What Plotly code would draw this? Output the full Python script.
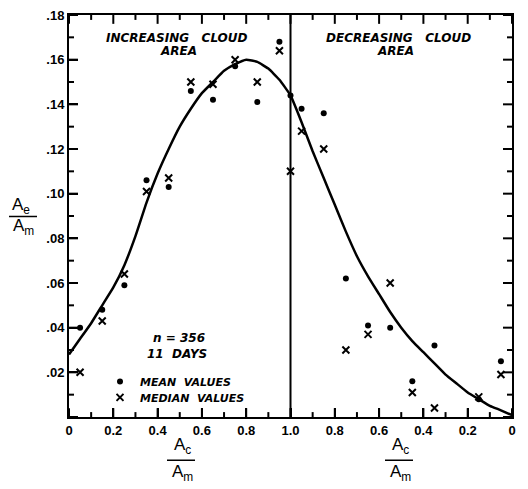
import plotly.graph_objects as go

# Phase coordinate: 0..1 = increasing cloud area (Ac/Am 0->1), 1..2 = decreasing (Ac/Am 1->0)
mean_s = [0.05, 0.15, 0.25, 0.35, 0.45, 0.55, 0.65, 0.75, 0.85, 0.95, 1.0,
          1.05, 1.15, 1.25, 1.35, 1.45, 1.55, 1.65, 1.85, 1.95]
mean_v = [0.040, 0.048, 0.059, 0.106, 0.103, 0.146, 0.142, 0.157, 0.141, 0.168, 0.144,
          0.138, 0.136, 0.062, 0.041, 0.040, 0.016, 0.032, 0.008, 0.025]

median_s = [0.05, 0.15, 0.25, 0.35, 0.45, 0.55, 0.65, 0.75, 0.85, 0.95, 1.0,
            1.05, 1.15, 1.25, 1.35, 1.45, 1.55, 1.65, 1.85, 1.95]
median_v = [0.020, 0.043, 0.064, 0.101, 0.107, 0.150, 0.149, 0.160, 0.150, 0.164, 0.110,
            0.128, 0.120, 0.030, 0.037, 0.060, 0.011, 0.004, 0.009, 0.019]

curve_s = [0.0, 0.05, 0.1, 0.15, 0.2, 0.25, 0.3, 0.35, 0.4, 0.45, 0.5, 0.55, 0.6, 0.65,
           0.7, 0.75, 0.8, 0.85, 0.9, 0.95, 1.0, 1.05, 1.1, 1.15, 1.2, 1.25, 1.3, 1.35,
           1.4, 1.45, 1.5, 1.55, 1.6, 1.65, 1.7, 1.75, 1.8, 1.85, 1.9, 1.95, 2.0]
curve_v = [0.028, 0.035, 0.042, 0.050, 0.058, 0.068, 0.081, 0.096, 0.109, 0.120, 0.130,
           0.138, 0.145, 0.150, 0.155, 0.158, 0.160, 0.159, 0.156, 0.151, 0.144, 0.132,
           0.119, 0.107, 0.095, 0.083, 0.072, 0.063, 0.055, 0.047, 0.040, 0.034, 0.029,
           0.024, 0.019, 0.015, 0.011, 0.008, 0.005, 0.003, 0.0008]

x_tickvals = [0, 0.2, 0.4, 0.6, 0.8, 1.0, 1.2, 1.4, 1.6, 1.8, 2.0]
x_ticktext = ["0", "0.2", "0.4", "0.6", "0.8", "1.0", "0.8", "0.6", "0.4", "0.2", "0"]
x_minorvals = [0.1, 0.3, 0.5, 0.7, 0.9, 1.1, 1.3, 1.5, 1.7, 1.9]
y_tickvals = [0, 0.02, 0.04, 0.06, 0.08, 0.10, 0.12, 0.14, 0.16, 0.18]
y_ticktext = ["", ".02", ".04", ".06", ".08", ".10", ".12", ".14", ".16", ".18"]
y_minorvals = [0.01, 0.03, 0.05, 0.07, 0.09, 0.11, 0.13, 0.15, 0.17]

X_RANGE = [0, 2]
Y_RANGE = [0, 0.18]
FONT = "Liberation Sans"
tickfont = dict(family=FONT, size=13, color="black", weight="bold")
itfont = dict(family="DejaVu Sans", size=12, color="black", weight="bold", style="italic")

PLOT_W, PLOT_H = 443.0, 409.0

fig = go.Figure()

# Inside tick marks on all four sides, as line segments in the axes' data space
tx, ty = [], []
for vals, ln in ((x_tickvals, 9), (x_minorvals, 5)):
    d = ln / PLOT_H * (Y_RANGE[1] - Y_RANGE[0])
    for v in vals:
        tx += [v, v, None, v, v, None]
        ty += [Y_RANGE[0], Y_RANGE[0] + d, None, Y_RANGE[1], Y_RANGE[1] - d, None]
for vals, ln in ((y_tickvals, 9), (y_minorvals, 5)):
    d = ln / PLOT_W * (X_RANGE[1] - X_RANGE[0])
    for v in vals:
        tx += [X_RANGE[0], X_RANGE[0] + d, None, X_RANGE[1], X_RANGE[1] - d, None]
        ty += [v, v, None, v, v, None]
fig.add_trace(go.Scatter(x=tx, y=ty, mode="lines", line=dict(color="black", width=2),
                         showlegend=False, hoverinfo="skip", cliponaxis=False))

fig.add_trace(go.Scatter(x=curve_s, y=curve_v, mode="lines", line=dict(color="black", width=2.5,
                         shape="spline", smoothing=0.4), showlegend=False, hoverinfo="skip"))
fig.add_trace(go.Scatter(x=mean_s, y=mean_v, mode="markers", name="MEAN&nbsp;&nbsp;VALUES",
                         legend="legend",
                         marker=dict(symbol="circle", size=6, color="black")))
fig.add_trace(go.Scatter(x=median_s, y=median_v, mode="markers", name="MEDIAN&nbsp;&nbsp;VALUES",
                         legend="legend2",
                         marker=dict(symbol="x-thin", size=7, color="black",
                                     line=dict(color="black", width=2))))

fig.update_xaxes(range=X_RANGE, tickmode="array", tickvals=x_tickvals, ticktext=x_ticktext,
                 showgrid=False, zeroline=False, showline=True, linecolor="black", linewidth=2,
                 ticks="inside", tickcolor="black", tickwidth=2, ticklen=9, mirror=True,
                 tickfont=tickfont)
fig.update_yaxes(range=Y_RANGE, tickmode="array", tickvals=y_tickvals, ticktext=y_ticktext,
                 showgrid=False, zeroline=False, showline=True, linecolor="black", linewidth=2,
                 ticks="inside", tickcolor="black", tickwidth=2, ticklen=9, mirror=True,
                 tickfont=tickfont)

fig.add_shape(type="line", xref="x", yref="paper", x0=1.0, x1=1.0, y0=0, y1=1,
              line=dict(color="black", width=2))

def px_x(p):
    return (p - 69) / PLOT_W

def px_y(p):
    return (417 - p) / PLOT_H

ann = []
ann.append(dict(text="INCREASING&nbsp;&nbsp;&nbsp;CLOUD", x=px_x(177), y=px_y(31)))
ann.append(dict(text="AREA", x=px_x(178), y=px_y(45)))
ann.append(dict(text="DECREASING&nbsp;&nbsp;&nbsp;CLOUD", x=px_x(398), y=px_y(31)))
ann.append(dict(text="AREA", x=px_x(395), y=px_y(45)))
ann.append(dict(text="n = 356", x=px_x(179), y=px_y(337)))
ann.append(dict(text="11&nbsp;&nbsp;DAYS", x=px_x(177), y=px_y(353)))
for a in ann:
    fig.add_annotation(xref="paper", yref="paper", showarrow=False, font=itfont,
                       xanchor="center", yanchor="middle", **a)

lblfont = dict(family=FONT, size=17, color="black")
fig.add_annotation(xref="paper", yref="paper", x=px_x(21), y=px_y(202), text="A<sub>e</sub>",
                   showarrow=False, font=lblfont, xanchor="center", yanchor="middle")
fig.add_annotation(xref="paper", yref="paper", x=px_x(23), y=px_y(224), text="A<sub>m</sub>",
                   showarrow=False, font=lblfont, xanchor="center", yanchor="middle")
fig.add_shape(type="line", xref="paper", yref="paper", x0=px_x(9), x1=px_x(37),
              y0=px_y(213), y1=px_y(213), line=dict(color="black", width=1.5))
for cx in (181, 399):
    fig.add_annotation(xref="paper", yref="paper", x=px_x(cx + 1), y=px_y(447), text="A<sub>c</sub>",
                       showarrow=False, font=lblfont, xanchor="center", yanchor="middle")
    fig.add_annotation(xref="paper", yref="paper", x=px_x(cx + 1), y=px_y(474), text="A<sub>m</sub>",
                       showarrow=False, font=lblfont, xanchor="center", yanchor="middle")
    fig.add_shape(type="line", xref="paper", yref="paper", x0=px_x(cx - 14), x1=px_x(cx + 14),
                  y0=px_y(461), y1=px_y(461), line=dict(color="black", width=1.5))

legfont = dict(family="DejaVu Sans", size=11, color="black", weight="bold", style="italic")
fig.update_layout(
    width=528, height=489,
    margin=dict(l=69, r=16, t=8, b=72),
    paper_bgcolor="white", plot_bgcolor="white",
    showlegend=True,
    legend=dict(x=px_x(100), y=px_y(381), xanchor="left", yanchor="middle",
                bgcolor="rgba(0,0,0,0)", font=legfont, itemwidth=30),
    legend2=dict(x=px_x(100), y=px_y(397), xanchor="left", yanchor="middle",
                 bgcolor="rgba(0,0,0,0)", font=legfont, itemwidth=30),
)

fig.write_html("out.html")
